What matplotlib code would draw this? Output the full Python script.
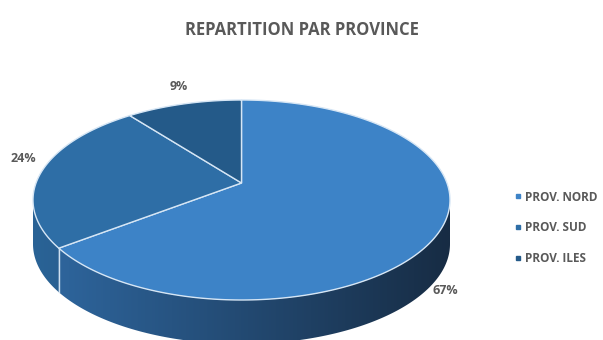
import numpy as np
import matplotlib.pyplot as plt
from matplotlib.colors import LinearSegmentedColormap
from matplotlib.lines import Line2D
from matplotlib.patches import Polygon

plt.rcParams['font.family'] = ['Open Sans', 'DejaVu Sans']

title = "REPARTITION PAR PROVINCE"
provinces = ["PROV. NORD", "PROV. SUD", "PROV. ILES"]
shares = [67, 24, 9]
top_colors = ["#3d83c7", "#2e6ea6", "#245a89"]
side_left = ["#2f68a1", "#2a6396", "#22557f"]
side_right = ["#172c44", "#1d3b5c", "#1d3b5c"]
text_gray = "#595959"

# ellipse geometry in pixel space
cx, cy, rx, ry = 241.5, 200.0, 208.5, 100.0
depth = 44.0
apex = (cx, cy - 17.0)


def pt(theta_deg, dy=0.0, sx=1.0, sy=1.0):
    t = np.radians(theta_deg)
    return cx + sx * rx * np.cos(t), cy - sy * ry * np.sin(t) + dy


# slice angles: start at 12 o'clock, go clockwise
fracs = np.array(shares) / np.sum(shares)
starts, ends = [], []
a = 90.0
for f in fracs:
    starts.append(a)
    a -= 360 * f
    ends.append(a)

fig = plt.figure(figsize=(6.03, 3.40), dpi=100)
ax = fig.add_axes([0, 0, 1, 1])

# side wall: the front half of each slice, filled with a horizontal gradient
grad = np.linspace(0, 1, 256).reshape(1, -1)
for i, (s, e) in enumerate(zip(starts, ends)):
    lo, hi = e % 360, (e % 360) + (s - e)
    segs = []
    for off in (0, 360, -360):
        a0, a1 = max(lo + off, 180), min(hi + off, 360)
        if a1 > a0:
            segs.append((a0, a1))
    for a0, a1 in segs:
        ts = np.linspace(a0, a1, 200)
        top = [pt(t) for t in ts]
        bot = [pt(t, dy=depth) for t in ts[::-1]]
        poly = Polygon(top + bot, closed=True, fc='none', ec='none')
        ax.add_patch(poly)
        cmap = LinearSegmentedColormap.from_list(
            f"side{i}", [side_left[i], side_right[i]])
        im = ax.imshow(grad, cmap=cmap, aspect='auto', zorder=1,
                       extent=[cx - rx, cx + rx, cy + ry + depth, cy - ry])
        im.set_clip_path(poly)

# vertical seams on the side where slices meet
for e in ends:
    th = e % 360
    if 180 < th < 360:
        x, y = pt(th)
        ax.plot([x, x], [y, y + depth], color="#cfe0f0", lw=1.0, zorder=2)

# top face
for i, (s, e) in enumerate(zip(starts, ends)):
    ts = np.linspace(s, e, 200)
    xs = [apex[0]] + [pt(t)[0] for t in ts]
    ys = [apex[1]] + [pt(t)[1] for t in ts]
    ax.fill(xs, ys, color=top_colors[i], ec="#d6e6f5", lw=1.0, zorder=3)

ax.set_xlim(0, 603)
ax.set_ylim(340, 0)
ax.axis('off')

# percentage labels just outside each slice
for i, (s, e) in enumerate(zip(starts, ends)):
    mid = (s + e) / 2
    x, y = pt(mid, sx=1.08, sy=1.18)
    if np.sin(np.radians(mid)) < 0:
        y += depth * 0.7
        x += 10
    elif np.cos(np.radians(mid)) < -0.5:
        y -= 12
    ax.text(x, y, f"{shares[i]}%", ha='center', va='center', fontsize=9,
            fontweight='bold', color=text_gray, zorder=5)

fig.text(0.5, 0.912, title, ha='center', va='center', fontsize=12,
         fontweight='bold', color=text_gray)

handles = [Line2D([], [], ls='none', marker='s', markersize=3.5,
                  markerfacecolor=c, markeredgecolor=c) for c in top_colors]
leg = fig.legend(handles, provinces, loc='center left',
                 bbox_to_anchor=(0.836, 0.33), frameon=False,
                 handlelength=0.5, handletextpad=0.4, labelspacing=1.5,
                 prop={'size': 8.5, 'weight': 'bold'})
for t in leg.get_texts():
    t.set_color(text_gray)

fig.savefig("out.png", dpi=100)
